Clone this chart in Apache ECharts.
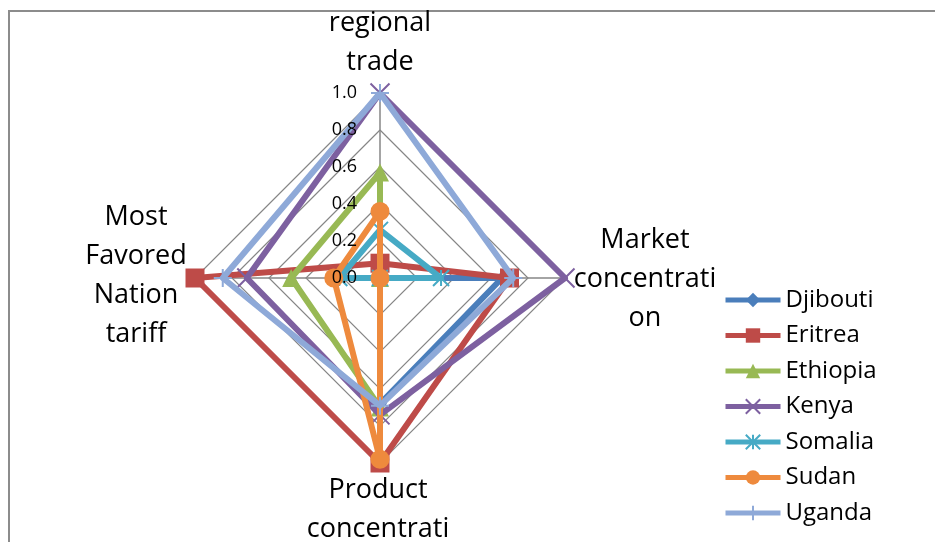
<!DOCTYPE html>
<html>
<head>
<meta charset="utf-8">
<script src="https://cdn.jsdelivr.net/npm/echarts@6/dist/echarts.min.js"></script>
<style>
html,body{margin:0;padding:0;background:#fff;}
#chart{width:935px;height:542px;}
</style>
</head>
<body>
<div id="chart"></div>
<script>
// Indicators (clockwise from top, as in the reference)
const indicatorNames = ['regional trade', 'Market concentration', 'Product concentration', 'Most Favored Nation tariff'];
const countries = ['Djibouti', 'Eritrea', 'Ethiopia', 'Kenya', 'Somalia', 'Sudan', 'Uganda'];
// values in order: regional trade, Market concentration, Product concentration, MFN tariff
const djibouti = [0.00, 0.66, 0.68, 0.00];
const eritrea  = [0.08, 0.70, 1.00, 1.00];
const ethiopia = [0.57, 0.00, 0.70, 0.48];
const kenya    = [1.00, 1.00, 0.74, 0.72];
const somalia  = [0.26, 0.33, 0.00, 0.22];
const sudan    = [0.36, 0.00, 0.98, 0.25];
const uganda   = [1.00, 0.72, 0.69, 0.85];
const tickLabels = ['0.0', '0.2', '0.4', '0.6', '0.8', '1.0'];

const seriesValues = [djibouti, eritrea, ethiopia, kenya, somalia, sudan, uganda];
const colors = ['#4A7EBB', '#BE4B48', '#98B954', '#7D60A0', '#46AAC5', '#EE8A3D', '#8EA9D8'];
const symbols = ['diamond', 'rect', 'triangle',
  'path://M0,0L10,10M10,0L0,10',
  'path://M0,0L10,10M10,0L0,10M5,0L5,10',
  'circle',
  'path://M5,0L5,10M0,5L10,5'];
const symbolSizes = [14, 19, 18, 19, 16, 19, 18];
const strokeSym = [false, false, false, true, true, false, true];

// ECharts radar runs counter-clockwise; reorder so the layout matches (top, left, bottom, right)
const order = [0, 3, 2, 1];
const fontFam = '"Open Sans", "Liberation Sans", sans-serif';

const chart = echarts.init(document.getElementById('chart'), null, {renderer: 'canvas'});

const radarSeries = countries.map((c, i) => ({
  type: 'radar',
  name: c,
  radarIndex: 0,
  symbol: symbols[i],
  symbolSize: symbolSizes[i],
  lineStyle: {color: colors[i], width: 6},
  itemStyle: {color: colors[i], borderColor: colors[i], borderWidth: strokeSym[i] ? 2 : 0},
  z: 2 + i,
  data: [{name: c, value: order.map(k => seriesValues[i][k])}]
}));

// line series used only to give the legend Excel-like line+marker icons (no data)
const legendSeries = countries.map((c, i) => ({
  type: 'line',
  name: c,
  xAxisIndex: 0,
  yAxisIndex: 0,
  symbol: symbols[i],
  lineStyle: {color: colors[i], width: 5},
  itemStyle: {color: colors[i], borderColor: colors[i], borderWidth: strokeSym[i] ? 2 : 0},
  data: []
}));

const option = {
  backgroundColor: '#ffffff',
  animation: false,
  legend: {
    orient: 'vertical',
    left: 723,
    top: 288,
    padding: 0,
    itemWidth: 55,
    itemHeight: 18,
    itemGap: 11.5,
    data: countries,
    lineStyle: {width: 5},
    textStyle: {fontSize: 24, fontFamily: fontFam, color: '#000', lineHeight: 24, padding: [0, 0, 0, 0]}
  },
  grid: {left: 380, top: 93, width: 1, height: 185, show: false},
  xAxis: {type: 'value', show: false, min: 0, max: 1},
  yAxis: {
    type: 'value', min: 0, max: 1, interval: 0.2, z: 30,
    axisLine: {show: false}, axisTick: {show: false}, splitLine: {show: false},
    axisLabel: {
      margin: 23, fontSize: 18, color: '#000', fontFamily: fontFam,
      formatter: function (v) { return tickLabels[Math.round(v / 0.2)]; }
    }
  },
  radar: {
    center: [380, 278],
    radius: 185,
    startAngle: 90,
    shape: 'polygon',
    splitNumber: 5,
    indicator: order.map(k => ({name: indicatorNames[k], min: 0, max: 1})),
    axisName: {show: false},
    axisLine: {lineStyle: {color: '#868686', width: 1.5}},
    splitLine: {lineStyle: {color: '#868686', width: 1.2}},
    splitArea: {show: false}
  },
  graphic: [
    {type: 'rect', silent: true, z: -1, shape: {x: 9, y: 11, width: 1000, height: 1000},
     style: {fill: 'none', stroke: '#8C8C8C', lineWidth: 2}},
    {type: 'text', silent: true, x: 380, y: 43,
     style: {text: 'regional\ntrade', font: '27px ' + fontFam, fill: '#000', align: 'center', verticalAlign: 'middle', lineHeight: 39}},
    {type: 'text', silent: true, x: 645, y: 279,
     style: {text: 'Market\nconcentrati\non', font: '27px ' + fontFam, fill: '#000', align: 'center', verticalAlign: 'middle', lineHeight: 39}},
    {type: 'text', silent: true, x: 378, y: 529,
     style: {text: 'Product\nconcentrati\non', font: '27px ' + fontFam, fill: '#000', align: 'center', verticalAlign: 'middle', lineHeight: 39}},
    {type: 'text', silent: true, x: 136, y: 276,
     style: {text: 'Most\nFavored\nNation\ntariff', font: '27px ' + fontFam, fill: '#000', align: 'center', verticalAlign: 'middle', lineHeight: 39}}
  ],
  series: legendSeries.concat(radarSeries)
};

chart.setOption(option);
</script>
</body>
</html>
